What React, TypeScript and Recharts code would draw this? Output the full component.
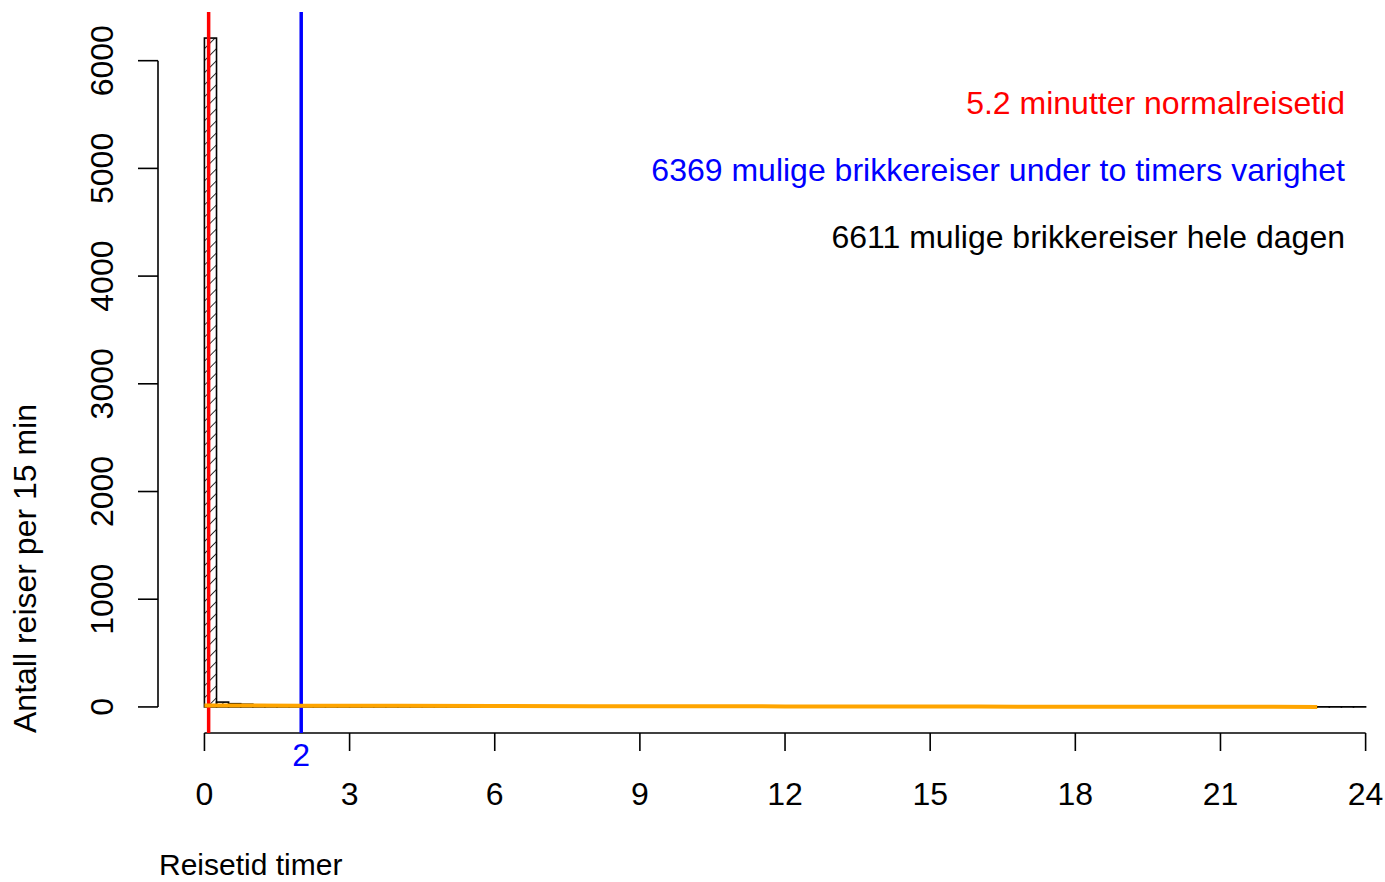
import React from "react";
import { ComposedChart, Bar, Line, XAxis, YAxis, ReferenceLine } from "recharts";

// histogram of travel time, 15 min bins (hours)
const binCounts = [
  6210, 45, 30, 25, 20, 16, 13, 10,
  6, 6, 5, 5, 5, 5, 4, 4,
  4, 4, 4, 4, 4, 3, 3, 3,
  3, 3, 3, 3, 3, 3, 3, 3,
  3, 3, 3, 3, 3, 3, 3, 3,
  3, 3, 3, 2, 2, 2, 2, 2,
  2, 2, 2, 2, 2, 2, 2, 2,
  2, 2, 2, 2, 2, 2, 2, 2,
  2, 2, 2, 2, 2, 2, 1, 1,
  1, 2, 1, 2, 1, 2, 1, 2,
  2, 1, 1, 2, 1, 1, 2, 1,
  1, 1, 1, 1, 1, 1, 1, 1,
];
const binWidth = 0.25;

const trendHours = [0, 2, 4, 6, 8, 10, 12, 14, 16, 18, 20, 22, 23];
const trendValues = [14, 12, 10, 8.5, 7, 6, 5, 4, 3, 2, 1.5, 1, 0.5];

const xTicks = [0, 3, 6, 9, 12, 15, 18, 21, 24];
const yTicks = [0, 1000, 2000, 3000, 4000, 5000, 6000];

const normalMinutes = 5.2;
const limitHours = 2;
const notes = [
  { text: "5.2 minutter normalreisetid", color: "#ff0000" },
  { text: "6369 mulige brikkereiser under to timers varighet", color: "#0000ff" },
  { text: "6611 mulige brikkereiser hele dagen", color: "#000000" },
];

const bars = binCounts.map((n, i) => ({ x: i * binWidth + binWidth / 2, count: n }));
const trend = trendHours.map((h, i) => ({ x: h, v: trendValues[i] }));

const X_DOMAIN = [-0.96, 24.38];
const W = 1385;
const H = 882;
const M = { top: 12, right: 1, left: 98, bottom: 89 };
const Y_AXIS_W = 60;
const PLOT_W = W - M.left - M.right - Y_AXIS_W;
const binPx = (binWidth * PLOT_W) / (X_DOMAIN[1] - X_DOMAIN[0]);

const FONT = "'Liberation Sans', Arial, Helvetica, sans-serif";
const FS = 32;

const YTick = (p: any) => (
  <text
    transform={`translate(113, ${p.y}) rotate(-90)`}
    textAnchor="middle"
    fontSize={FS}
    fontFamily={FONT}
    fill="#000"
  >
    {p.payload.value}
  </text>
);

const XTick = (p: any) => (
  <text x={p.x} y={805} textAnchor="middle" fontSize={FS} fontFamily={FONT} fill="#000">
    {p.payload.value}
  </text>
);

const BlueLabel = (p: any) => {
  const vb = p.viewBox || {};
  return (
    <text x={vb.x} y={766} textAnchor="middle" fontSize={FS} fontFamily={FONT} fill="#0000ff">
      {limitHours}
    </text>
  );
};

// histogram bar: full bin width, centred on the bin midpoint
const HistBar = (p: any) => {
  const cx = p.x + p.width / 2;
  const h = Math.max(p.height, 0);
  return (
    <rect
      x={cx - binPx / 2}
      y={p.y}
      width={binPx}
      height={h}
      fill="url(#hatch)"
      stroke="#000"
      strokeWidth={1.6}
    />
  );
};

export default function App() {
  return (
    <div style={{ position: "absolute", left: 0, top: 0, width: W, height: H, background: "#fff" }}>
      <ComposedChart width={W} height={H} data={bars} margin={M} barGap={0} barCategoryGap={0}>
        <defs>
          <pattern id="hatch" patternUnits="userSpaceOnUse" width={8.5} height={8.5} patternTransform="rotate(45)">
            <line x1={0} y1={0} x2={0} y2={8.5} stroke="#000" strokeWidth={1.6} />
          </pattern>
        </defs>
        <XAxis
          dataKey="x"
          type="number"
          domain={X_DOMAIN}
          ticks={xTicks}
          axisLine={false}
          tickLine={{ stroke: "#000", strokeWidth: 1.6 }}
          tickSize={18}
          tick={<XTick />}
          height={60}
          interval={0}
          allowDataOverflow
        />
        <YAxis
          type="number"
          domain={[-242, 6452]}
          ticks={yTicks}
          axisLine={false}
          tickLine={{ stroke: "#000", strokeWidth: 1.6 }}
          tickSize={20}
          tick={<YTick />}
          width={Y_AXIS_W}
          interval={0}
          allowDataOverflow
        />
        <Bar dataKey="count" shape={<HistBar />} isAnimationActive={false} />
        <ReferenceLine
          segment={[{ x: 0, y: -242 }, { x: 24, y: -242 }]}
          stroke="#000"
          strokeWidth={1.6}
          ifOverflow="visible"
        />
        <ReferenceLine
          segment={[{ x: -0.96, y: 0 }, { x: -0.96, y: 6000 }]}
          stroke="#000"
          strokeWidth={1.6}
          ifOverflow="visible"
        />
        <ReferenceLine x={normalMinutes / 60} stroke="#ff0000" strokeWidth={3.5} />
        <ReferenceLine x={limitHours} stroke="#0000ff" strokeWidth={3.5} label={<BlueLabel />} />
        <Line
          data={trend}
          dataKey="v"
          type="monotone"
          stroke="#ffa500"
          strokeWidth={4}
          dot={false}
          isAnimationActive={false}
        />
      </ComposedChart>
      <svg
        width={W}
        height={H}
        style={{ position: "absolute", left: 0, top: 0, pointerEvents: "none" }}
        fontFamily={FONT}
        fontSize={FS}
      >
        {notes.map((n, i) => (
          <text key={i} x={1345} y={114 + i * 67} textAnchor="end" fill={n.color}>
            {n.text}
          </text>
        ))}
        <text x={159} y={875} fontSize={30}>Reisetid timer</text>
        <text transform="translate(36, 733) rotate(-90)">Antall reiser per 15 min</text>
      </svg>
    </div>
  );
}
